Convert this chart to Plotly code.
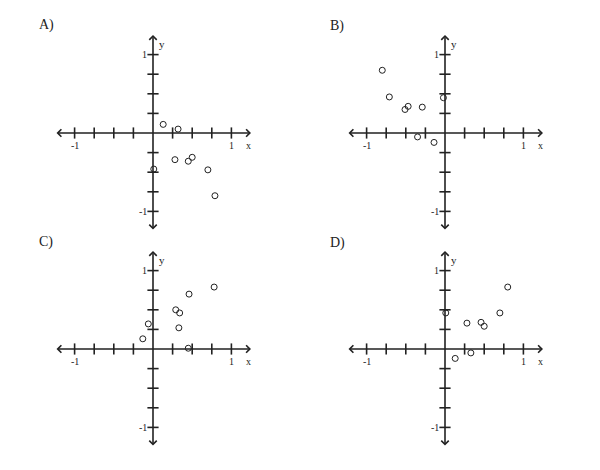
import plotly.graph_objects as go

# scatter points
a_x = [0.13, 0.32, 0.28, 0.45, 0.50, 0.70, 0.79, 0.01]
a_y = [0.11, 0.05, -0.34, -0.36, -0.31, -0.47, -0.80, -0.46]

b_x = [-0.80, -0.71, -0.51, -0.47, -0.29, -0.35, -0.14, -0.02]
b_y = [0.80, 0.46, 0.30, 0.34, 0.33, -0.05, -0.12, 0.45]

c_x = [0.78, 0.46, 0.29, 0.34, 0.33, -0.06, -0.13, 0.45]
c_y = [0.79, 0.70, 0.50, 0.46, 0.27, 0.32, 0.13, 0.01]

d_x = [0.80, 0.70, 0.28, 0.46, 0.50, 0.01, 0.13, 0.33]
d_y = [0.79, 0.46, 0.33, 0.34, 0.29, 0.46, -0.12, -0.05]

panel_names = ["A)", "B)", "C)", "D)"]
panel_x = [a_x, b_x, c_x, d_x]
panel_y = [a_y, b_y, c_y, d_y]

tick_vals = [-1, -0.75, -0.5, -0.25, 0.25, 0.5, 0.75, 1]
tick_labels = ["-1", "1"]
label_vals = [-1, 1]

LIM = 1.25
FONT = "Liberation Serif"
INK = "#222222"

# the page body has an 8px margin, so the figure is a bit smaller and shifted
OFF = 8
W, H = 600 - 2 * OFF, 470 - 2 * OFF

# pixel boxes of each panel (left, right, top, bottom) in the 600x470 window
boxes = [(55, 251, 35, 231), (347, 543, 35, 231),
         (55, 251, 251, 447), (347, 543, 251, 447)]
name_pos = [(37, 25), (328, 26), (37, 242), (328, 243)]


def px_x(v):
    return (v - OFF) / W


def px_y(v):
    return 1 - (v - OFF) / H


fig = go.Figure()
annotations = []
layout_axes = {}

for i in range(4):
    n = "" if i == 0 else str(i + 1)
    xr, yr = "x" + n, "y" + n
    l, r, t, b = boxes[i]
    layout_axes["xaxis" + n] = dict(domain=[px_x(l), px_x(r)], range=[-LIM, LIM],
                                    visible=False, anchor=yr, fixedrange=True)
    layout_axes["yaxis" + n] = dict(domain=[px_y(b), px_y(t)], range=[-LIM, LIM],
                                    visible=False, anchor=xr, fixedrange=True)

    # axis lines with arrowheads at both ends
    for (x0, y0, x1, y1) in [(-LIM, 0, LIM, 0), (0, -LIM, 0, LIM)]:
        annotations.append(dict(
            x=x1, y=y1, ax=x0, ay=y0, xref=xr, yref=yr, axref=xr, ayref=yr,
            text="", showarrow=True, arrowside="end+start",
            arrowhead=4, startarrowhead=4, arrowsize=0.9, startarrowsize=0.9,
            arrowwidth=1.6, arrowcolor=INK,
        ))

    # tick marks
    fig.add_trace(go.Scatter(
        x=tick_vals, y=[0] * len(tick_vals), xaxis=xr, yaxis=yr, mode="markers",
        marker=dict(symbol="line-ns", size=8, line=dict(width=1.6, color=INK)),
        hoverinfo="skip", showlegend=False,
    ))
    fig.add_trace(go.Scatter(
        x=[0] * len(tick_vals), y=tick_vals, xaxis=xr, yaxis=yr, mode="markers",
        marker=dict(symbol="line-ew", size=8, line=dict(width=1.6, color=INK)),
        hoverinfo="skip", showlegend=False,
    ))

    # tick labels
    for v, s in zip(label_vals, tick_labels):
        annotations.append(dict(x=v, y=0, xref=xr, yref=yr, text=s, showarrow=False,
                                yshift=-12, font=dict(family=FONT, size=10, color=INK)))
        annotations.append(dict(x=0, y=v, xref=xr, yref=yr, text=s, showarrow=False,
                                xanchor="right", xshift=-4,
                                font=dict(family=FONT, size=10, color=INK)))
    annotations.append(dict(x=LIM, y=0, xref=xr, yref=yr, text="x", showarrow=False,
                            xanchor="center", xshift=-3, yshift=-12,
                            font=dict(family=FONT, size=10, color=INK)))
    annotations.append(dict(x=0, y=LIM, xref=xr, yref=yr, text="y", showarrow=False,
                            xanchor="left", xshift=4, yshift=-9,
                            font=dict(family=FONT, size=11, color=INK)))

    # panel label
    lx, ly = name_pos[i]
    annotations.append(dict(x=px_x(lx), y=px_y(ly), xref="paper", yref="paper",
                            text=panel_names[i], showarrow=False, xanchor="left",
                            yanchor="middle", font=dict(family=FONT, size=14, color=INK)))

    # data points
    fig.add_trace(go.Scatter(
        x=panel_x[i], y=panel_y[i], xaxis=xr, yaxis=yr, mode="markers",
        marker=dict(symbol="circle-open", size=6, color=INK, line=dict(width=1)),
        showlegend=False,
    ))

fig.update_layout(
    width=W, height=H,
    margin=dict(l=0, r=0, t=0, b=0),
    paper_bgcolor="white", plot_bgcolor="white",
    annotations=annotations,
    **layout_axes,
)

fig.write_html("out.html")
